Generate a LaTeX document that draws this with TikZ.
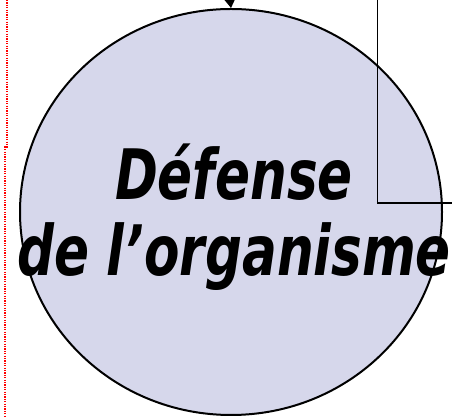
\documentclass[tikz,border=0pt]{standalone}
\usepackage{fontspec}
\setmainfont{DejaVu Sans}
\usetikzlibrary{shapes.geometric,arrows.meta}
\definecolor{lavande}{RGB}{214,215,235}

\begin{document}
\begin{tikzpicture} [x=1pt, y=1pt, every node/.style = {inner sep=0pt, align=center}]
			\useasboundingbox (0,0) rectangle (452,417);
			% grand cercle
			\node (defense) [ellipse, draw, line width=2pt, fill=lavande,
				minimum width=422pt, minimum height=406pt] at (231,205) {};
			\node (titre) [font=\fontsize{58}{63}\selectfont\bfseries\itshape, xscale=0.89, yscale=1.2]
				at (234,200) {D\'efense\\de l'organisme};
			% connecteurs
			\coordinate (haut) at (230,417);
			\coordinate (droiteHaut) at (377.5,417);
			\coordinate (droiteFin) at (452,214);
			\draw [line width=2pt, -{Triangle[length=10pt,width=12pt]}] (haut) -- (defense.north);
			\draw [line width=1.8pt] (droiteHaut) |- (droiteFin);
			% bordure pointillee
			\draw [red, line width=2pt, dash pattern=on 1.2pt off 1.2pt]
				(6.5,417) -- (6.5,270) -- (4.5,270) -- (4.5,0);
		\end{tikzpicture}
\end{document}
